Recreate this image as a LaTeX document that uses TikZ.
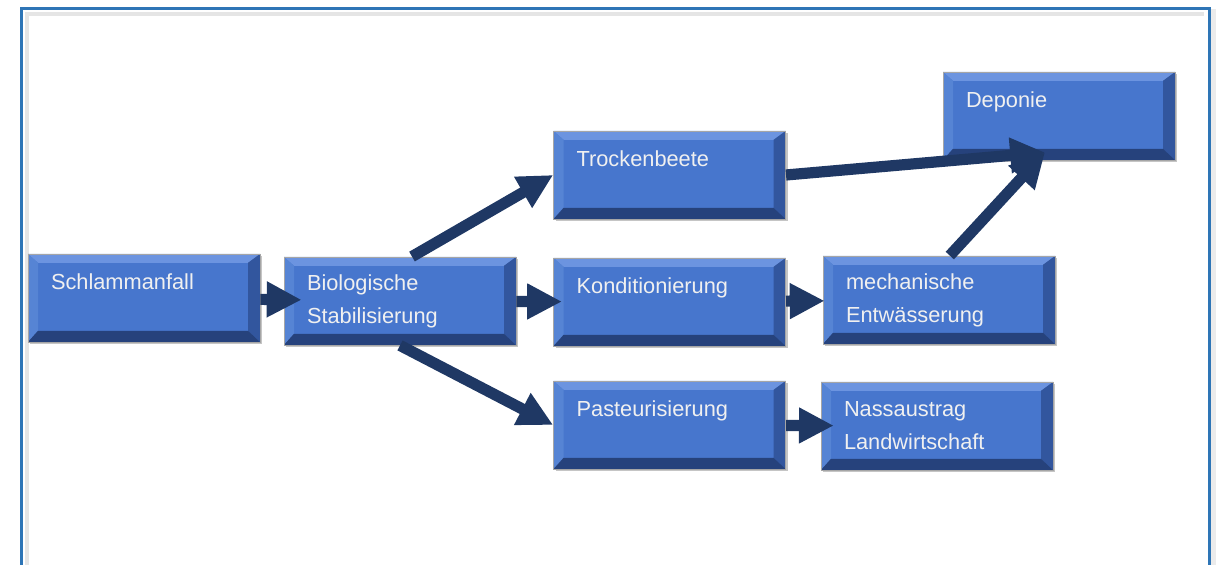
\documentclass[tikz,border=0pt]{standalone}
\usepackage{fontspec}
\setmainfont{Liberation Sans}
\usepackage{tikz}
\usetikzlibrary{arrows.meta,shadows}
\definecolor{boxblue}{RGB}{71,118,205}
\definecolor{boxlight}{RGB}{108,148,224}
\definecolor{boxleft}{RGB}{86,132,212}
\definecolor{boxside}{RGB}{50,86,158}
\definecolor{boxdark}{RGB}{38,66,124}
\definecolor{flowblue}{RGB}{31,56,100}
\definecolor{frameblue}{RGB}{46,117,182}
\newcommand{\boxfont}{\fontsize{15.5}{23.5}\selectfont}

\begin{document}
\begin{tikzpicture}[
		stage/.style={fill=boxblue, draw=black!35, line width=0.6pt,
		              minimum width=5.8cm, minimum height=2.2cm, text width=4.65cm,
		              inner xsep=0.575cm, inner ysep=0pt, align=left, text=white!94!black, font=\boxfont,
		              drop shadow={shadow xshift=0.05cm, shadow yshift=-0.05cm, fill=black!45},
		              path picture={
		                \fill[boxlight] (path picture bounding box.north west) -- (path picture bounding box.north east)
		                  -- ++(-0.25,-0.22) -- ([shift={(0.25,-0.22)}]path picture bounding box.north west) -- cycle;
		                \fill[boxleft] (path picture bounding box.north west) -- (path picture bounding box.south west)
		                  -- ++(0.25,0.28) -- ([shift={(0.25,-0.22)}]path picture bounding box.north west) -- cycle;
		                \fill[boxside] (path picture bounding box.north east) -- (path picture bounding box.south east)
		                  -- ++(-0.3,0.28) -- ([shift={(-0.3,-0.22)}]path picture bounding box.north east) -- cycle;
		                \fill[boxdark] (path picture bounding box.south west) -- (path picture bounding box.south east)
		                  -- ++(-0.3,0.28) -- ([shift={(0.25,0.28)}]path picture bounding box.south west) -- cycle;
		              }},
		flow/.style={draw=flowblue, line width=0.28cm,
		             -{Triangle[length=0.87cm, width=0.84cm]}}]
		\useasboundingbox (0,0) rectangle (30.525,14.125);
		\draw[black!10, line width=3pt] (0.68,-0.2) -- (0.68,13.77) -- (30.1,13.77);
		\draw[black!8, line width=4pt] (30.33,-0.2) -- (30.33,13.9);
		\draw[frameblue, line width=1.8pt] (0.54,-0.05) rectangle (30.24,13.91);
		\node[stage] (schlamm) at (3.6, 6.675) {Schlammanfall\\~};
		\node[stage] (bio) at (10.0, 6.6) {Biologische\\Stabilisierung};
		\node[stage] (trocken) at (16.74, 9.75) {Trockenbeete\\~};
		\node[stage] (kond) at (16.74, 6.575) {Konditionierung\\~};
		\node[stage] (pasteur) at (16.74, 3.5) {Pasteurisierung\\~};
		\node[stage] (mech) at (23.475, 6.625) {mechanische\\Entwässerung};
		\node[stage] (nass) at (23.425, 3.475) {Nassaustrag\\Landwirtschaft};
		\node[stage] (deponie) at (26.475, 11.225) {Deponie\\~};
		\coordinate (depin) at ([xshift=-0.35cm, yshift=0.2cm]deponie.south);
		\foreach \a/\b/\o in {schlamm/bio/0.45, bio/kond/0.22, kond/mech/0.05, pasteur/nass/0.33}
			\draw[flow, shorten >=-\o cm] (\a) -- (\b);
		\draw[flow] ([xshift=0.3cm]bio.north) -- (trocken.west);
		\draw[flow] (bio.south) -- (pasteur.west);
		\draw[flow] (trocken.east) -- (depin);
		\draw[flow] ([xshift=0.27cm]mech.north) -- (depin);
	\end{tikzpicture}
\end{document}
